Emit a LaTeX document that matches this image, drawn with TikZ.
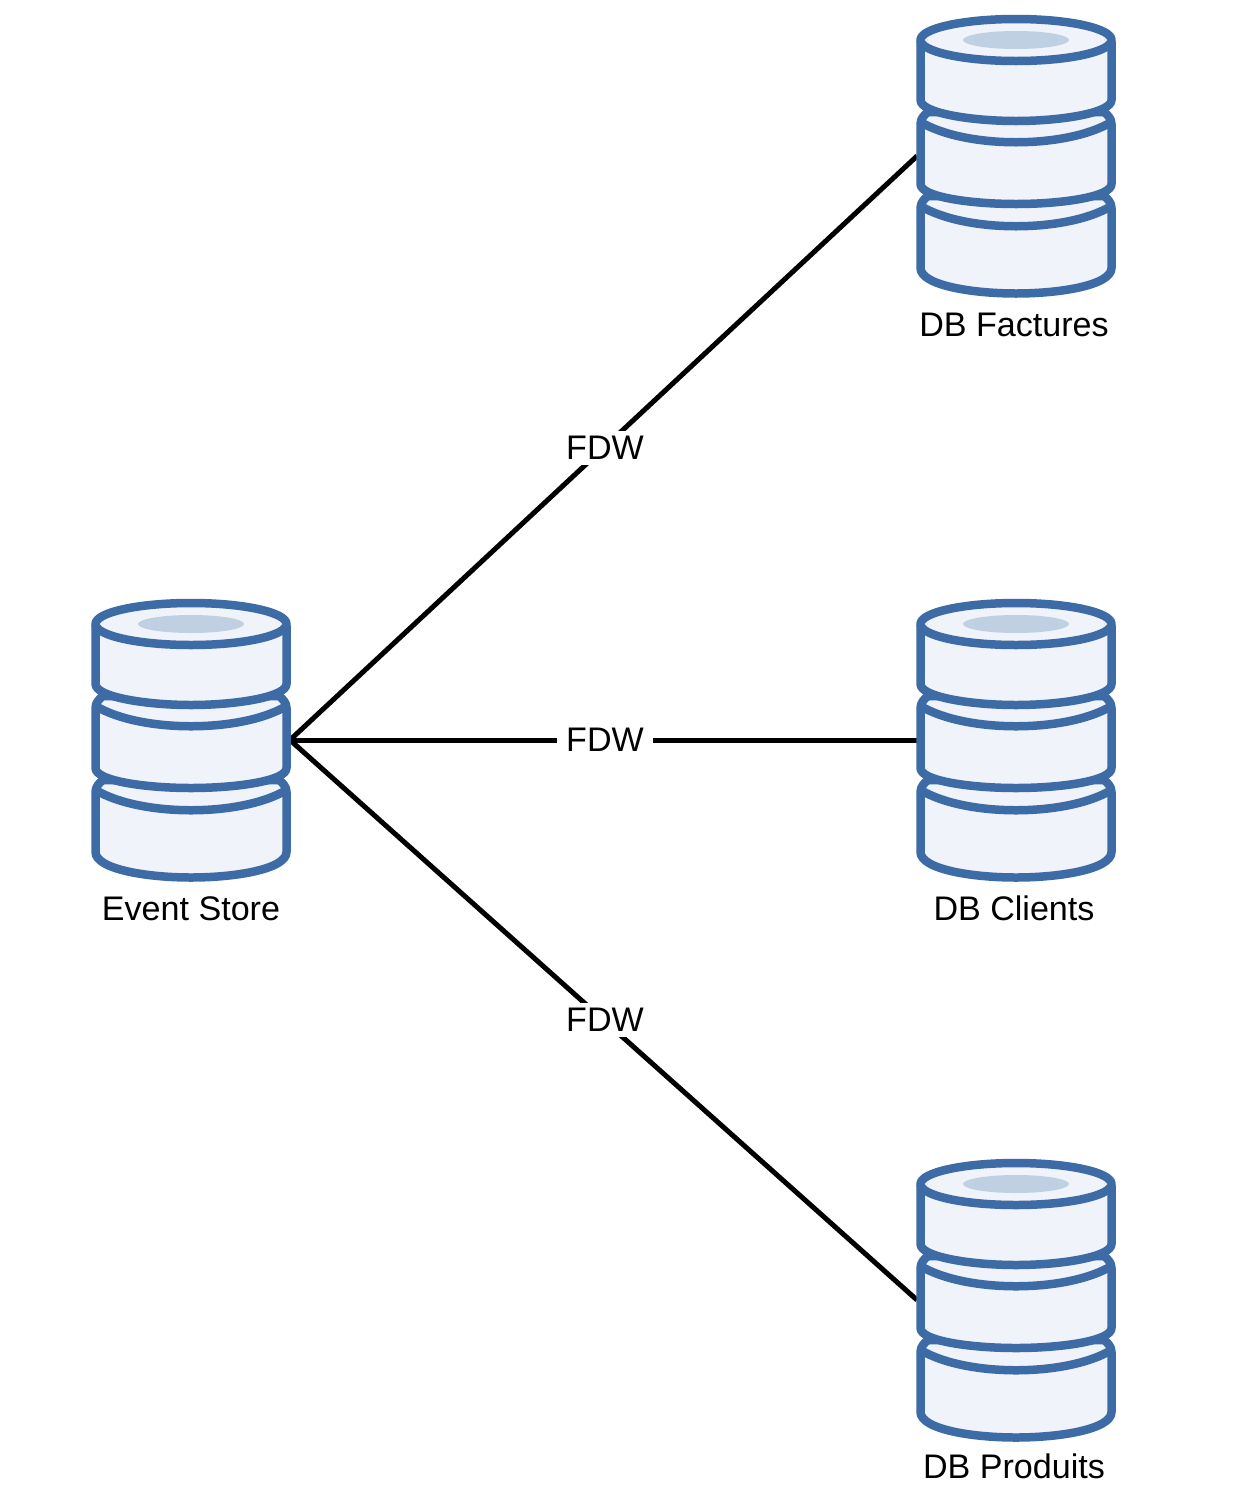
\documentclass[tikz,border=0pt]{standalone}
\usepackage{fontspec}
\setmainfont{Liberation Sans}
\usetikzlibrary{positioning}
\definecolor{dbblue}{HTML}{3D6BA6}
\definecolor{dbfill}{HTML}{F0F3F9}
\definecolor{dbhole}{HTML}{C0D0E3}
\tikzset{
  dbnode/.style={minimum width=3.96cm,minimum height=5.64cm,inner sep=0,outer sep=0},
  dbline/.style={draw=dbblue,fill=dbfill,line width=0.17cm,line join=round},
  dblabel/.style={font=\fontsize{19.4pt}{23pt}\selectfont,text height=0.5cm,inner sep=0,outer sep=0},
  fdw/.style={font=\fontsize{19.4pt}{23pt}\selectfont,fill=white,inner xsep=0.18cm,inner ysep=0.1cm,xshift=0.03cm},
  link/.style={line width=0.1cm,black}
}
% one stacked drum, centred on the named node
\newcommand{\dbstack}[1]{
  \begin{scope}[shift={(#1.center)}]
    % Bottom
    \draw[dbline] (-95.5,52) .. controls (-95.5,47) and (-92,43) .. (-88,40) -- (88,40)
      .. controls (92,43) and (95.5,47) .. (95.5,52) -- (95.5,112) .. controls (95.5,129) and (45,137.5) .. (0,137.5)
      .. controls (-45,137.5) and (-95.5,129) .. (-95.5,112) -- cycle;
    \draw[dbline,fill=none] (-95.5,50) .. controls (-50,77) and (50,77) .. (95.5,50);
    % Middle
    \draw[dbline] (-95.5,-32) .. controls (-95.5,-37) and (-92,-41) .. (-88,-44) -- (88,-44)
      .. controls (92,-41) and (95.5,-37) .. (95.5,-32) -- (95.5,28) .. controls (95.5,41) and (45,48) .. (0,48)
      .. controls (-45,48) and (-95.5,41) .. (-95.5,28) -- cycle;
    \draw[dbline,fill=none] (-95.5,-34) .. controls (-50,-7) and (50,-7) .. (95.5,-34);
    % Top
    \draw[dbline] (-95.5,-114) -- (-95.5,-56) .. controls (-95.5,-43) and (-45,-35) .. (0,-35)
      .. controls (45,-35) and (95.5,-43) .. (95.5,-56) -- (95.5,-114) -- cycle;
    \draw[dbline] (0,-116) ellipse (95.5 and 21);
    \fill[dbhole] (0,-116) ellipse (53 and 9);
  \end{scope}
}
\begin{document}
\begin{tikzpicture}[x=0.02cm,y=-0.02cm]
  \useasboundingbox (0,0) rectangle (1242,1488);
  % Drums
  \node[dbnode] (store) at (191,740) {};
  \node[dbnode] (factures) at (1016,156) {};
  \node[dbnode] (clients) at (1016,740) {};
  \node[dbnode] (produits) at (1016,1300) {};
  % Links
  \draw[link] (store.east) -- node[fdw] (fdwfactures) {FDW} (factures.west);
  \draw[link] (store.east) -- node[fdw] (fdwclients) {FDW} (clients.west);
  \draw[link] (store.east) -- node[fdw] (fdwproduits) {FDW} (produits.west);
  \dbstack{store}
  \dbstack{factures}
  \dbstack{clients}
  \dbstack{produits}
  % Labels
  \node[dblabel,below=0.3cm of store] (storelabel) {Event Store};
  \node[dblabel,below=0.3cm of factures,xshift=-0.04cm] (factureslabel) {DB Factures};
  \node[dblabel,below=0.3cm of clients,xshift=-0.04cm] (clientslabel) {DB Clients};
  \node[dblabel,below=0.26cm of produits,xshift=-0.04cm] (produitslabel) {DB Produits};
\end{tikzpicture}
\end{document}
